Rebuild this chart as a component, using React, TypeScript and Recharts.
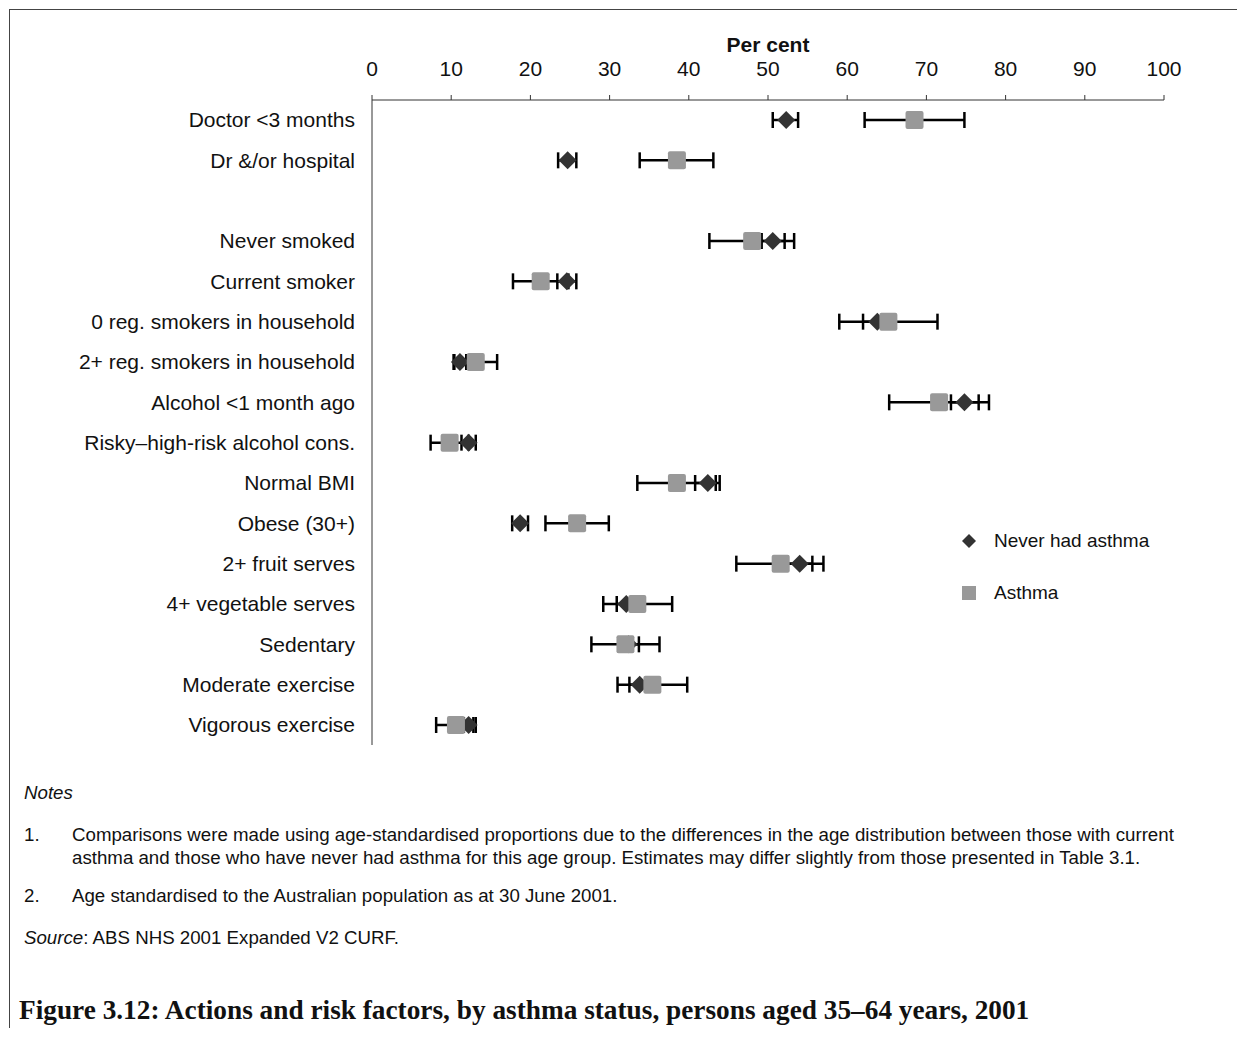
import { ComposedChart, Scatter, XAxis, YAxis, ErrorBar, Legend } from 'recharts';

// row labels, top to bottom (the empty one is the gap row)
const categories = [
  'Doctor <3 months',
  'Dr &/or hospital',
  '',
  'Never smoked',
  'Current smoker',
  '0 reg. smokers in household',
  '2+ reg. smokers in household',
  'Alcohol <1 month ago',
  'Risky–high-risk alcohol cons.',
  'Normal BMI',
  'Obese (30+)',
  '2+ fruit serves',
  '4+ vegetable serves',
  'Sedentary',
  'Moderate exercise',
  'Vigorous exercise',
];

const neverHad = [52.3, 24.7, null, 50.6, 24.6, 63.8, 11.1, 74.8, 12.2, 42.4, 18.7, 54.0, 32.1, 32.4, 33.8, 12.2];
const neverLow = [50.6, 23.5, null, 49.2, 23.4, 62.0, 10.3, 73.1, 11.3, 40.8, 17.7, 52.5, 30.9, 31.1, 32.5, 11.6];
const neverHigh = [53.8, 25.8, null, 52.1, 25.8, 65.6, 11.9, 76.6, 13.1, 43.9, 19.7, 55.6, 33.3, 33.7, 35.1, 12.8];

const asthma = [68.5, 38.5, null, 48.0, 21.3, 65.2, 13.1, 71.6, 9.8, 38.5, 25.9, 51.6, 33.5, 32.0, 35.4, 10.6];
const asthmaLow = [62.2, 33.8, null, 42.6, 17.8, 59.0, 10.4, 65.3, 7.4, 33.5, 21.9, 46.0, 29.2, 27.7, 31.0, 8.1];
const asthmaHigh = [74.8, 43.1, null, 53.3, 24.8, 71.4, 15.8, 77.9, 12.2, 43.4, 29.9, 57.0, 37.9, 36.3, 39.8, 13.1];

const xTicks = [0, 10, 20, 30, 40, 50, 60, 70, 80, 90, 100];
const seriesNames = ['Never had asthma', 'Asthma'];

const rows = categories.map((name, i) => ({
  name,
  never: neverHad[i],
  neverLo: neverLow[i],
  neverHi: neverHigh[i],
  asthma: asthma[i],
  asthmaLo: asthmaLow[i],
  asthmaHi: asthmaHigh[i],
}));

const SANS = "'Liberation Sans', Arial, sans-serif";
const DARK = '#333333';
const GREY = '#999999';
const AXIS = '#333333';

const diamondShape = (props: any) => {
  const { cx, cy, payload } = props;
  if (payload?.never == null || !Number.isFinite(cx) || !Number.isFinite(cy)) return null;
  return <path d={`M${cx},${cy - 9}L${cx + 9},${cy}L${cx},${cy + 9}L${cx - 9},${cy}Z`} fill={DARK} />;
};

const squareShape = (props: any) => {
  const { cx, cy, payload } = props;
  if (payload?.asthma == null || !Number.isFinite(cx) || !Number.isFinite(cy)) return null;
  return <rect x={cx - 9} y={cy - 9} width={18} height={18} rx={2} fill={GREY} />;
};

const neverErr = (p: any) => (p.never == null ? null : [p.never - p.neverLo, p.neverHi - p.never]);
const asthmaErr = (p: any) => (p.asthma == null ? null : [p.asthma - p.asthmaLo, p.asthmaHi - p.asthma]);

const legendContent = () => (
  <div style={{ fontFamily: SANS, fontSize: 19, color: '#111' }}>
    {seriesNames.map((n, i) => (
      <div key={n} style={{ display: 'flex', alignItems: 'center', height: 30, marginBottom: i === 0 ? 22 : 0 }}>
        <svg width={14} height={14}>
          {i === 0 ? <path d="M7,0L14,7L7,14L0,7Z" fill={DARK} /> : <rect x={0} y={0} width={14} height={14} fill={GREY} />}
        </svg>
        <span style={{ marginLeft: 18 }}>{n}</span>
      </div>
    ))}
  </div>
);

const noteLine: React.CSSProperties = {
  position: 'absolute',
  fontFamily: SANS,
  fontSize: 18.7,
  lineHeight: '23px',
  whiteSpace: 'nowrap',
  color: '#111',
};

export default function App() {
  return (
    <div
      style={{
        position: 'relative',
        marginLeft: 1,
        marginTop: 1,
        width: 1231,
        height: 1018,
        borderLeft: '1px solid #444',
        borderTop: '1px solid #444',
        borderRight: '1px solid #444',
        background: '#fff',
      }}
    >
      <div style={{ position: 'absolute', left: 0, top: 0 }}>
        <ComposedChart
          width={1231}
          height={760}
          data={rows}
          layout="vertical"
          margin={{ top: 50, right: 77, bottom: 25, left: 0 }}
        >
          <XAxis
            type="number"
            orientation="top"
            domain={[0, 100]}
            ticks={xTicks}
            height={40}
            tickSize={5}
            tickMargin={19}
            stroke={AXIS}
            tick={{ fill: '#111', fontSize: 21, fontFamily: SANS }}
            label={{ value: 'Per cent', position: 'top', offset: 8, fill: '#111', fontSize: 21, fontWeight: 'bold', fontFamily: SANS }}
          />
          <YAxis
            type="category"
            dataKey="name"
            width={362}
            padding={{ top: 20, bottom: 20 }}
            tickLine={false}
            tickSize={0}
            tickMargin={17}
            interval={0}
            stroke={AXIS}
            tick={{ fill: '#111', fontSize: 21, fontFamily: SANS }}
          />
          <Legend
            layout="vertical"
            align="center"
            verticalAlign="middle"
            content={legendContent}
            wrapperStyle={{ left: 952, top: 516, width: 240 }}
          />
          <Scatter name={seriesNames[0]} dataKey="never" shape={diamondShape} isAnimationActive={false}>
            <ErrorBar dataKey={neverErr} direction="x" width={8} stroke="#000" strokeWidth={2.5} isAnimationActive={false} />
          </Scatter>
          <Scatter name={seriesNames[1]} dataKey="asthma" shape={squareShape} isAnimationActive={false}>
            <ErrorBar dataKey={asthmaErr} direction="x" width={8} stroke="#000" strokeWidth={2.5} isAnimationActive={false} />
          </Scatter>
        </ComposedChart>
      </div>

      <div style={{ ...noteLine, left: 14, top: 770.5, fontStyle: 'italic' }}>Notes</div>
      <div style={{ ...noteLine, left: 14, top: 812.5 }}>1.</div>
      <div style={{ ...noteLine, left: 62, top: 812.5 }}>
        Comparisons were made using age-standardised proportions due to the differences in the age distribution between those with current
        <br />
        asthma and those who have never had asthma for this age group. Estimates may differ slightly from those presented in Table 3.1.
      </div>
      <div style={{ ...noteLine, left: 14, top: 873.5 }}>2.</div>
      <div style={{ ...noteLine, left: 62, top: 873.5 }}>Age standardised to the Australian population as at 30 June 2001.</div>
      <div style={{ ...noteLine, left: 14, top: 915.5 }}>
        <i>Source</i>: ABS NHS 2001 Expanded V2 CURF.
      </div>
      <div
        style={{
          position: 'absolute',
          left: 9,
          top: 984,
          fontFamily: "'Liberation Serif', 'Times New Roman', serif",
          fontWeight: 'bold',
          fontSize: 27.3,
          lineHeight: '32px',
          whiteSpace: 'nowrap',
          color: '#111',
        }}
      >
        Figure 3.12: Actions and risk factors, by asthma status, persons aged 35–64 years, 2001
      </div>
    </div>
  );
}
